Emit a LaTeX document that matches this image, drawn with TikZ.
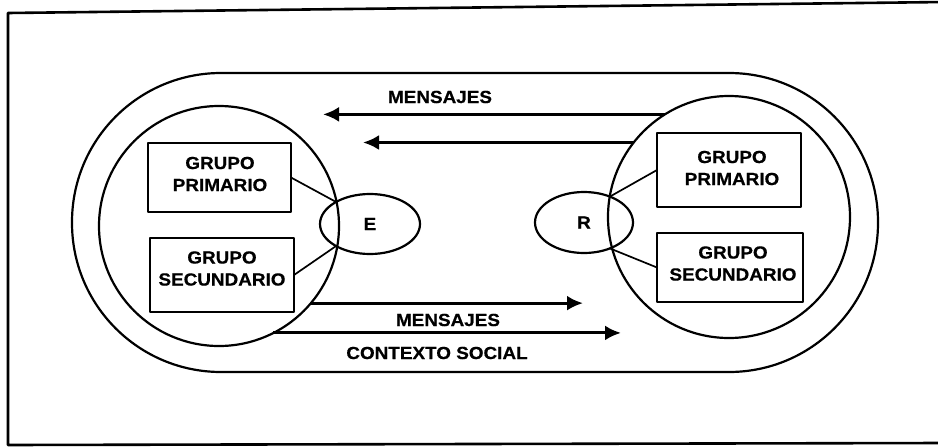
\documentclass[tikz,border=0pt]{standalone}
\usepackage{fontspec}
\setmainfont{Liberation Sans}[FakeStretch=1.08,BoldFeatures={FakeBold=0.6}]
\usetikzlibrary{arrows.meta,shapes.geometric}
\begin{document}
\begin{tikzpicture}[x=1pt,y=-1pt,line join=round]
\tikzset{
  frameline/.style={line width=2.6pt},
  ring/.style={draw,line width=2.2pt,outer sep=0pt,inner sep=0pt},
  grpbox/.style={draw,rectangle,line width=2.6pt,outer sep=0pt,inner sep=0pt},
  lbl/.style={font=\bfseries\fontsize{17.5}{22}\selectfont,align=center,inner sep=0pt},
  link/.style={line width=1.7pt},
  arr/.style={line width=3pt,-{Latex[length=16pt,width=15pt]}}
}
\useasboundingbox (0,0) rectangle (938,447);
% frame and social context outline
\draw[frameline] (945,2) -- (8,13) -- (8,445) -- (945,443);
\draw[ring,rounded corners=149pt] (72,73) rectangle (878,372);
% circles
\node[ring,circle,minimum size=240pt] (lc) at (219,226) {};
\node[ring,circle,minimum size=242pt] (rc) at (729,217) {};
% ellipses
\node[ring,ellipse,minimum width=100pt,minimum height=60pt,font=\bfseries\fontsize{17.5}{22}\selectfont] (E) at (370,224) {E};
\node[ring,ellipse,minimum width=98pt,minimum height=61pt,font=\bfseries\fontsize{17.5}{22}\selectfont] (R) at (584,222.5) {R};
% boxes
\node[grpbox,minimum width=143pt,minimum height=69pt] (lp) at (219.5,177.5) {};
\node[grpbox,minimum width=144pt,minimum height=74pt] (ls) at (222,275) {};
\node[grpbox,minimum width=144pt,minimum height=74pt] (rp) at (729,170) {};
\node[grpbox,minimum width=146pt,minimum height=69pt] (rs) at (730,267.5) {};
\node[lbl] (lpt) at (220,174) {GRUPO\\PRIMARIO};
\node[lbl] (lst) at (222,268.5) {GRUPO\\SECUNDARIO};
\node[lbl] (rpt) at (732,168) {GRUPO\\PRIMARIO};
\node[lbl] (rst) at (733,263.5) {GRUPO\\SECUNDARIO};
% links
\draw[link] (lp.east) -- (E.147);
\draw[link] (ls.east) -- (E.-147);
\draw[link] (rp.west) -- (R.45);
\draw[link] (rs.west) -- (R.-45);
% arrows
\coordinate (t1) at (323,115);
\coordinate (t2) at (363,144);
\coordinate (t3) at (583,304);
\coordinate (t4) at (621,333);
\draw[arr] (rc.122.6) -- (rc.122.6 -| t1);
\draw[arr] (rc.142.9) -- (rc.142.9 -| t2);
\draw[arr] (lc.-40.5) -- (lc.-40.5 -| t3);
\draw[arr] (lc.-63.1) -- (lc.-63.1 -| t4);
% labels
\node[lbl] (m1) at (440,97) {MENSAJES};
\node[lbl] (m2) at (448,320) {MENSAJES};
\node[lbl] (cs) at (437,353) {CONTEXTO SOCIAL};
\end{tikzpicture}
\end{document}
